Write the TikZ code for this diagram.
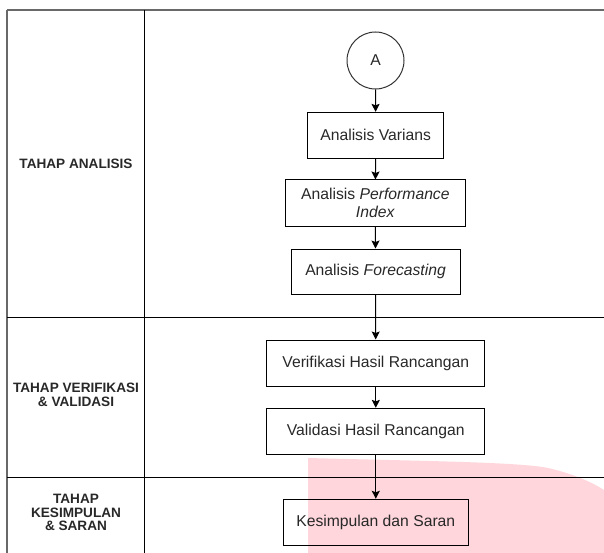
\documentclass[tikz,border=0pt]{standalone}
\usepackage{fontspec}
\setmainfont{Liberation Sans}
\usetikzlibrary{arrows.meta}
\definecolor{wmpink}{RGB}{255,214,219}
\definecolor{framegray}{RGB}{105,105,105}
\definecolor{txt}{RGB}{40,40,40}
\tikzset{
  procbox/.style={draw=black, line width=1pt, inner sep=0pt, align=center, text=txt,
    font=\fontsize{15.7}{18.3}\selectfont},
  startcirc/.style={draw=black!80, line width=1pt, circle, inner sep=0pt, minimum size=57pt,
    text=txt, font=\fontsize{15.7}{18.3}\selectfont},
  phaselabel/.style={align=center, text=txt, inner sep=0pt,
    font=\bfseries\fontsize{13.6}{13.6}\selectfont},
  flow/.style={draw=black, line width=1pt, -{Stealth[length=8pt,width=8pt,inset=1.5pt]}},
  frameline/.style={draw=framegray, line width=2pt},
  laneline/.style={draw=black, line width=1pt}
}
\begin{document}
\begin{tikzpicture}[x=1pt,y=1pt]
\useasboundingbox (0,0) rectangle (604,-553);
% watermark
\fill[wmpink] (308,-553) -- (308,-458) .. controls (420,-461) and (520,-462) .. (548,-468)
  .. controls (575,-474) and (595,-484) .. (604,-490) -- (604,-553) -- cycle;
% lanes
\draw[frameline] (7,-10) -- (604,-10);
\draw[frameline] (7,-10) -- (7,-553);
\draw[laneline] (144.3,-10) -- (144.3,-553);
\draw[laneline] (7,-317.5) -- (604,-317.5);
\draw[laneline] (7,-477) -- (604,-477);
% labels
\node[phaselabel] (l1) at (76,-163.5) {TAHAP ANALISIS};
\node[phaselabel] (l2) at (76,-395) {TAHAP VERIFIKASI\\\& VALIDASI};
\node[phaselabel] (l3) at (76,-512.5) {TAHAP\\KESIMPULAN\\\& SARAN};
% flow
\node[startcirc] (a) at (375.5,-60.5) {A};
\node[procbox, minimum width=136.7pt, minimum height=45.7pt] (v) at (375.6,-135.2) {Analisis Varians};
\node[procbox, minimum width=179.3pt, minimum height=46pt] (p) at (375.4,-203) {Analisis \textit{Performance}\\\textit{Index}};
\node[procbox, minimum width=169pt, minimum height=45.3pt] (f) at (375.5,-271.7) {Analisis \textit{Forecasting}};
\node[procbox, minimum width=218.3pt, minimum height=46pt] (ver) at (375.8,-363) {Verifikasi Hasil Rancangan};
\node[procbox, minimum width=218.3pt, minimum height=45.7pt] (val) at (375.8,-431.2) {Validasi Hasil Rancangan};
\node[procbox, minimum width=185pt, minimum height=46pt] (kes) at (375.8,-522.3) {Kesimpulan dan Saran};
\draw[flow] (a) -- (v);
\draw[flow] (v) -- (p);
\draw[flow] (p) -- (f);
\draw[flow] (f) -- (ver);
\draw[flow] (ver) -- (val);
\draw[flow] (val) -- (kes);
\end{tikzpicture}
\end{document}
